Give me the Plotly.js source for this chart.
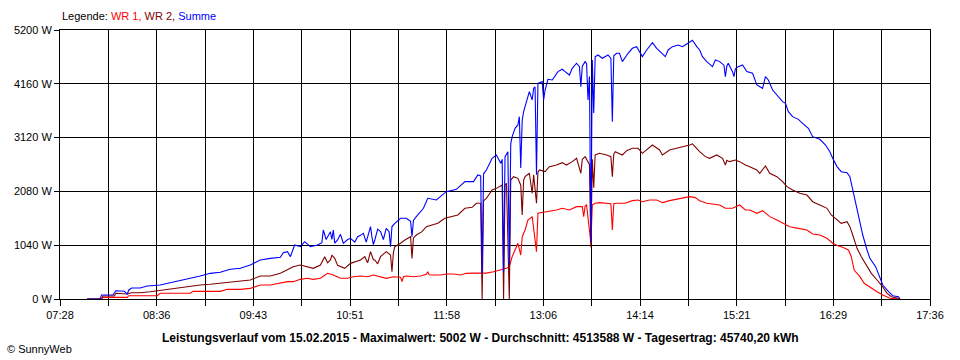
<!DOCTYPE html>
<html>
<head>
<meta charset="utf-8">
<script src="https://cdn.plot.ly/plotly-3.0.1.min.js"></script>
<style>
html,body{margin:0;padding:0;background:#fff;}
#chart{width:960px;height:360px;}
</style>
</head>
<body>
<div id="chart"></div>
<script>
// ---- Data ----
var DAY = '2015-02-15 ';

var sumTimes = ['07:47','07:56','07:57','08:05','08:07','08:13','08:15','08:16','08:18','08:24','08:29','08:36','08:38','08:45','08:52','08:59','09:06','09:13','09:20','09:27','09:34','09:41','09:48','09:55','10:02','10:04','10:07','10:09','10:12','10:16','10:19','10:23','10:28','10:31','10:32','10:34','10:35','10:37','10:38','10:39','10:40','10:42','10:44','10:46','10:49','10:51','10:54','10:56','10:58','11:00','11:02','11:05','11:06','11:07','11:08','11:10','11:12','11:14','11:16','11:18','11:19','11:20','11:22','11:26','11:30','11:33','11:34','11:35','11:37','11:42','11:45','11:51','11:58','12:05','12:11','12:17','12:20','12:22','12:23','12:24','12:26','12:30','12:33','12:36','12:37','12:38','12:39','12:41','12:42','12:43','12:44','12:46','12:48','12:49','12:50','12:51','12:52','12:54','12:56','12:58','12:59','13:00','13:01','13:02','13:05','13:06','13:07','13:09','13:12','13:16','13:19','13:21','13:24','13:26','13:29','13:31','13:32','13:33','13:35','13:36','13:37','13:38','13:39','13:40','13:41','13:42','13:44','13:47','13:51','13:53','13:54','13:55','13:57','13:59','14:01','14:05','14:08','14:11','14:13','14:15','14:18','14:22','14:25','14:29','14:31','14:33','14:36','14:40','14:43','14:46','14:48','14:50','14:53','14:55','14:57','15:00','15:04','15:06','15:09','15:12','15:13','15:14','15:15','15:18','15:19','15:20','15:22','15:25','15:28','15:32','15:35','15:39','15:41','15:43','15:46','15:49','15:53','15:55','15:57','16:00','16:04','16:07','16:11','16:14','16:19','16:23','16:26','16:28','16:31','16:34','16:38','16:40','16:42','16:45','16:47','16:49','16:52','16:54','16:58','17:01','17:03','17:07','17:10','17:14','17:15'];
var sumValues = [0,0,77,77,160,150,95,170,212,212,250,255,270,315,354,400,445,496,516,574,593,657,754,786,806,895,915,818,1044,1011,1108,1011,1044,1090,1334,1150,1205,1300,1150,1334,1080,1141,1250,1077,1150,1173,1100,1205,1230,1270,1100,1398,1200,1050,1141,1350,1302,1150,1366,1300,1011,1400,1463,1560,1560,1500,1205,1520,1592,1753,1946,1914,2075,2120,2268,2268,2397,2380,500,2420,2494,2720,2784,2623,2700,520,2752,2848,660,3000,3138,3300,3364,3525,2533,3450,3621,3815,4008,3850,4073,4100,2400,4170,4202,3847,4040,4247,4234,4395,4441,4395,4330,4460,4557,4492,4105,4500,4589,4550,3847,4300,1100,4620,3595,4680,4717,4653,4717,4650,3428,4700,4750,4750,4589,4750,4846,4878,4782,4685,4814,4955,4846,4750,4685,4814,4878,4910,4878,4930,4974,5002,4878,4814,4685,4589,4492,4620,4589,4520,4300,4500,4557,4395,4300,4450,4492,4524,4395,4363,4137,4073,4298,4234,4040,3943,3815,3783,3621,3525,3473,3396,3300,3138,3087,2977,2848,2720,2560,2461,2442,2365,2107,1720,1463,1237,947,786,625,431,270,141,64,45,0];

var wr2Times = ['07:47','07:57','07:58','08:06','08:07','08:15','08:18','08:24','08:31','08:38','08:45','08:52','08:59','09:06','09:13','09:20','09:27','09:34','09:41','09:48','09:55','10:02','10:07','10:11','10:16','10:21','10:25','10:30','10:33','10:35','10:37','10:38','10:40','10:42','10:44','10:47','10:51','10:54','10:58','11:01','11:03','11:05','11:07','11:08','11:10','11:12','11:16','11:19','11:20','11:21','11:22','11:26','11:29','11:33','11:34','11:35','11:37','11:41','11:44','11:48','11:52','11:57','12:02','12:06','12:11','12:16','12:19','12:22','12:23','12:24','12:26','12:30','12:33','12:37','12:38','12:39','12:40','12:42','12:43','12:45','12:48','12:50','12:51','12:52','12:53','12:56','12:58','12:59','13:01','13:02','13:03','13:07','13:10','13:15','13:19','13:22','13:26','13:29','13:32','13:33','13:35','13:38','13:39','13:40','13:41','13:42','13:45','13:50','13:53','13:54','13:55','13:56','14:01','14:04','14:08','14:12','14:15','14:19','14:22','14:27','14:29','14:34','14:39','14:43','14:48','14:50','14:55','14:59','15:02','15:07','15:11','15:13','15:14','15:16','15:20','15:23','15:27','15:30','15:35','15:37','15:41','15:44','15:49','15:53','15:56','16:00','16:05','16:10','16:14','16:19','16:24','16:27','16:31','16:34','16:38','16:40','16:42','16:45','16:48','16:52','16:55','16:59','17:02','17:06','17:09','17:14','17:15'];
var wr2Values = [0,0,58,58,110,97,122,122,141,168,187,212,238,270,284,303,315,335,367,445,445,496,560,625,657,625,593,657,818,700,754,850,786,650,625,593,689,722,754,818,700,915,760,754,680,818,915,850,528,900,1011,1077,1141,1205,786,1180,1237,1302,1398,1430,1463,1560,1592,1624,1753,1773,1850,1850,0,1900,1946,2107,2139,2204,0,2204,2236,0,2300,2365,2333,2200,1624,2300,2365,2430,2043,2400,1850,2450,2494,2462,2558,2590,2636,2590,2655,2720,2430,2700,2752,2600,1000,2700,2150,2784,2816,2784,2750,2365,2800,2848,2784,2868,2913,2913,2816,2913,2977,2881,2784,2881,2913,2945,2977,3000,2848,2752,2720,2784,2720,2590,2680,2655,2687,2655,2590,2558,2494,2430,2571,2430,2365,2268,2171,2107,2043,2010,1881,1817,1753,1624,1527,1463,1495,1398,1237,980,818,625,496,367,270,110,45,13,0];

var wr1Times = ['07:47','07:57','07:58','08:15','08:16','08:36','08:38','08:59','09:01','09:20','09:25','09:34','09:41','09:48','09:55','10:02','10:07','10:11','10:16','10:21','10:25','10:30','10:35','10:39','10:44','10:49','10:53','10:58','11:03','11:07','11:12','11:16','11:21','11:26','11:27','11:28','11:30','11:35','11:40','11:44','11:45','11:46','11:49','11:54','11:58','12:03','12:08','12:12','12:17','12:21','12:26','12:31','12:35','12:40','12:42','12:44','12:46','12:48','12:50','12:51','12:53','12:55','12:58','13:01','13:02','13:05','13:10','13:15','13:19','13:24','13:29','13:33','13:34','13:35','13:36','13:39','13:40','13:42','13:45','13:50','13:53','13:54','13:55','13:57','14:03','14:08','14:12','14:15','14:20','14:25','14:29','14:34','14:39','14:43','14:48','14:52','14:55','15:00','15:04','15:09','15:13','15:18','15:23','15:27','15:30','15:35','15:39','15:44','15:49','15:53','15:58','16:04','16:10','16:14','16:19','16:24','16:28','16:32','16:35','16:39','16:41','16:43','16:47','16:50','16:54','16:59','17:03','17:08','17:15'];
var wr1Values = [0,0,32,32,64,64,110,110,148,148,187,187,206,270,270,303,335,335,380,400,380,400,496,464,400,400,431,445,431,464,431,400,431,420,335,430,445,431,445,477,528,470,464,464,483,483,464,496,500,496,500,528,560,593,625,818,947,1077,850,1205,1334,1527,1592,915,1656,1669,1688,1720,1753,1720,1785,1785,1592,1800,1817,1077,1817,1850,1863,1850,1840,1334,1840,1850,1850,1901,1914,1880,1914,1914,1863,1901,1927,1946,1978,1960,1901,1850,1836,1817,1753,1753,1817,1720,1720,1656,1707,1592,1527,1475,1398,1366,1334,1256,1237,1173,1077,1025,999,947,818,560,431,303,225,141,77,13,0];

var xTickText = ['07:28','','08:36','','09:43','','10:51','','11:58','','13:06','','14:14','','15:21','','16:29','','17:36'];
var yTickVals = [0,1040,2080,3120,4160,5200];
var yTickText = ['0 W','1040 W','2080 W','3120 W','4160 W','5200 W'];

// ---- Build ----
function stamp(arr){ return arr.map(function(t){ return DAY + t; }); }
var xStart = new Date(DAY.trim() + 'T07:28:00').getTime();
var xEnd = new Date(DAY.trim() + 'T17:36:00').getTime();
function fmt(ms){
  var d = new Date(ms);
  function p(n){ return (n<10?'0':'')+n; }
  return d.getFullYear()+'-'+p(d.getMonth()+1)+'-'+p(d.getDate())+' '+p(d.getHours())+':'+p(d.getMinutes())+':'+p(d.getSeconds());
}
var xTickVals = xTickText.map(function(_, i){ return fmt(xStart + (xEnd - xStart) * i / (xTickText.length - 1)); });

var FONT = 'Liberation Sans, Arial, sans-serif';
var traces = [
  {x: stamp(wr1Times), y: wr1Values, name: 'WR 1', type: 'scatter', mode: 'lines', line: {color: '#ff0000', width: 1.1}},
  {x: stamp(wr2Times), y: wr2Values, name: 'WR 2', type: 'scatter', mode: 'lines', line: {color: '#800000', width: 1.1}},
  {x: stamp(sumTimes), y: sumValues, name: 'Summe', type: 'scatter', mode: 'lines', line: {color: '#0000ff', width: 1.1}}
];

var axisCommon = {
  showgrid: true, gridcolor: '#000', gridwidth: 1,
  showline: true, linecolor: '#000', linewidth: 1, mirror: true,
  ticks: 'outside', ticklen: 6, tickcolor: '#000', tickwidth: 1,
  zeroline: false, tickfont: {family: FONT, size: 11, color: '#000'},
  fixedrange: true
};

var layout = {
  width: 960, height: 360,
  margin: {l: 60, r: 30, t: 30, b: 61},
  paper_bgcolor: '#fff', plot_bgcolor: '#fff',
  showlegend: false,
  font: {family: FONT, size: 11, color: '#000'},
  xaxis: Object.assign({}, axisCommon, {
    type: 'date', range: [fmt(xStart), fmt(xEnd)],
    tickmode: 'array', tickvals: xTickVals, ticktext: xTickText
  }),
  yaxis: Object.assign({}, axisCommon, {
    range: [0, 5200], tickmode: 'array', tickvals: yTickVals, ticktext: yTickText, ticklen: 5
  }),
  annotations: [
    {xref: 'paper', yref: 'paper', x: 0, y: 1.052, xanchor: 'left', yanchor: 'middle', showarrow: false,
     text: 'Legende: <span style="color:#ff0000">WR 1,</span> <span style="color:#800000">WR 2,</span> <span style="color:#0000ff">Summe</span>',
     font: {family: FONT, size: 11, color: '#000'}},
    {xref: 'paper', yref: 'paper', x: 0.4828, y: -0.145, xanchor: 'center', yanchor: 'middle', showarrow: false,
     text: '<b>Leistungsverlauf vom 15.02.2015 - Maximalwert: 5002 W - Durchschnitt: 4513588 W - Tagesertrag: 45740,20 kWh</b>',
     font: {family: FONT, size: 12, color: '#000'}},
    {xref: 'paper', yref: 'paper', x: -0.0632, y: -0.186, xanchor: 'left', yanchor: 'middle', showarrow: false,
     text: '© SunnyWeb', font: {family: FONT, size: 11, color: '#000'}}
  ]
};

Plotly.newPlot('chart', traces, layout, {displayModeBar: false, staticPlot: true});
</script>
</body>
</html>
